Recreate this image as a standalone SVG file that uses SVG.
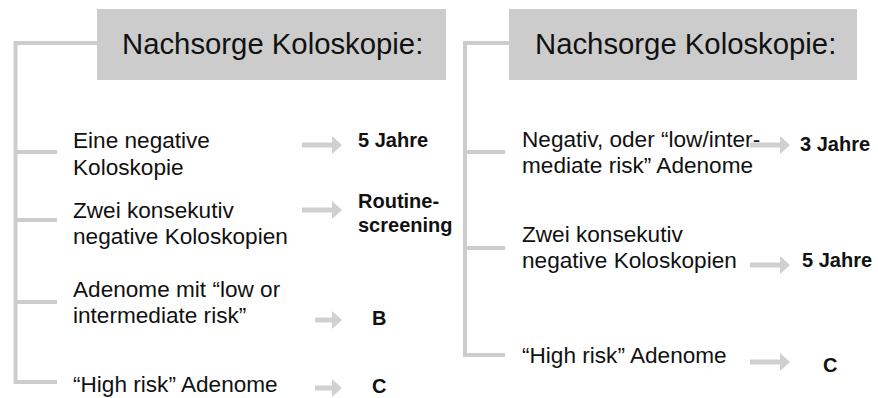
<svg xmlns="http://www.w3.org/2000/svg" width="878" height="398" viewBox="0 0 878 398">
<defs>
<style>
.title{fill:#cccccc}
.tt{font-family:"Liberation Sans",Arial,sans-serif;font-size:29.3px;fill:#111}
.t{font-family:"Liberation Sans",Arial,sans-serif;font-size:22.6px;fill:#111}
.b{font-family:"Liberation Sans",Arial,sans-serif;font-size:20px;font-weight:bold;fill:#111}
.tree{fill:none;stroke:#cccccc;stroke-width:4}
.arr{stroke:#d0d0d0;stroke-width:5;marker-end:url(#ah)}
</style>
<marker id="ah" markerUnits="userSpaceOnUse" markerWidth="10" markerHeight="18" refX="1" refY="9" orient="auto">
<path d="M0,0 L10,9 L0,18 z" fill="#d0d0d0"/>
</marker>
</defs>
<rect width="878" height="398" fill="#ffffff"/>
<g id="connectors">
<path class="tree" d="M97,43 H15.5 V382 H57 M15.5,152 H57 M15.5,220 H57 M15.5,302 H57"/>
<path class="tree" d="M509,43 H465 V355 H505 M465,152 H505 M465,248 H505"/>
<line class="arr" x1="302" y1="145" x2="333" y2="145"/>
<line class="arr" x1="302" y1="210" x2="333" y2="210"/>
<line class="arr" x1="315" y1="320" x2="333" y2="320"/>
<line class="arr" x1="315" y1="388" x2="333" y2="388"/>
<line class="arr" x1="750" y1="145" x2="781" y2="145"/>
<line class="arr" x1="750" y1="265" x2="781" y2="265"/>
<line class="arr" x1="750" y1="362" x2="781" y2="362"/>
</g>
<g id="title-left">
<rect class="title" x="97" y="9" width="349" height="71"/>
<text class="tt" x="122" y="54">Nachsorge Koloskopie:</text>
</g>
<g id="title-right">
<rect class="title" x="509" y="9" width="348" height="71"/>
<text class="tt" x="535" y="54">Nachsorge Koloskopie:</text>
</g>
<g id="l-item1">
<text class="t" x="73" y="148">Eine negative</text>
<text class="t" x="73" y="175">Koloskopie</text>
</g>
<g id="l-item2">
<text class="t" x="73" y="218">Zwei konsekutiv</text>
<text class="t" x="73" y="244">negative Koloskopien</text>
</g>
<g id="l-item3">
<text class="t" x="73" y="297">Adenome mit “low or</text>
<text class="t" x="73" y="323">intermediate risk”</text>
</g>
<g id="l-item4">
<text class="t" x="73" y="392">“High risk” Adenome</text>
</g>
<g id="l-res1"><text class="b" x="358" y="147">5 Jahre</text></g>
<g id="l-res2">
<text class="b" x="358" y="208">Routine-</text>
<text class="b" x="358" y="232">screening</text>
</g>
<g id="l-res3"><text class="b" x="372" y="325">B</text></g>
<g id="l-res4"><text class="b" x="372" y="393">C</text></g>
<g id="r-item1">
<text class="t" x="522" y="147">Negativ, oder “low/inter-</text>
<text class="t" x="522" y="173">mediate risk” Adenome</text>
</g>
<g id="r-item2">
<text class="t" x="522" y="242">Zwei konsekutiv</text>
<text class="t" x="522" y="268">negative Koloskopien</text>
</g>
<g id="r-item3">
<text class="t" x="522" y="363">“High risk” Adenome</text>
</g>
<g id="r-res1"><text class="b" x="800" y="151">3 Jahre</text></g>
<g id="r-res2"><text class="b" x="802" y="267">5 Jahre</text></g>
<g id="r-res3"><text class="b" x="823" y="372">C</text></g>
</svg>
